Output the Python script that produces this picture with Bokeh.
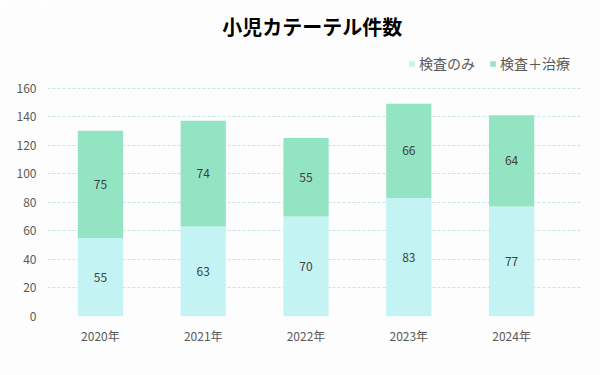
from bokeh.plotting import figure
from bokeh.models import Range1d, Legend, LegendItem, Label, ColumnDataSource, FixedTicker
from bokeh.core.properties import value
from bokeh.embed import file_html
from bokeh.resources import INLINE

years = ["2020年", "2021年", "2022年", "2023年", "2024年"]
exam_only = [55, 63, 70, 83, 77]
exam_treat = [75, 74, 55, 66, 64]
y_ticks = [0, 20, 40, 60, 80, 100, 120, 140, 160]

FONT = "Noto Sans CJK JP"
C_BOTTOM = "#C4F3F3"
C_TOP = "#93E4C2"

xs = list(range(len(years)))
tops = [a + b for a, b in zip(exam_only, exam_treat)]
src = ColumnDataSource(dict(
    x=xs, a=exam_only, b=exam_treat, top=tops,
    mid_a=[a / 2 for a in exam_only],
    mid_b=[a + b / 2 for a, b in zip(exam_only, exam_treat)],
    la=[str(v) for v in exam_only], lb=[str(v) for v in exam_treat],
    zero=[0] * len(xs),
))

# frame spans whole height; y range extended so 0..160 maps to the reference plot area
p = figure(width=600, height=375, output_backend="svg", toolbar_location=None,
           x_range=Range1d(-0.515, 4.68), y_range=Range1d(0, 221.3),
           min_border_left=47, min_border_right=19, min_border_top=0, min_border_bottom=59)
p.background_fill_color = "#FDFDFD"
p.border_fill_color = "#FDFDFD"
p.outline_line_color = None

w = 0.44
r1 = p.vbar(x="x", bottom="zero", top="a", width=w, source=src, fill_color=C_BOTTOM,
            line_color=None, hatch_pattern="checker", hatch_color="#ADEDED", hatch_scale=2, hatch_alpha=0.7)
r2 = p.vbar(x="x", bottom="a", top="top", width=w, source=src, fill_color=C_TOP,
            line_color=None, hatch_pattern="checker", hatch_color="#7BD9AE", hatch_scale=2, hatch_alpha=0.7)

p.text(x="x", y="mid_a", text="la", source=src, text_align="center", text_baseline="middle",
       text_font=value(FONT), text_font_size="12px", text_color="#404040")
p.text(x="x", y="mid_b", text="lb", source=src, text_align="center", text_baseline="middle",
       text_font=value(FONT), text_font_size="12px", text_color="#404040")

# axes
p.xaxis.ticker = FixedTicker(ticks=xs)
p.xaxis.major_label_overrides = {i: y for i, y in enumerate(years)}
p.yaxis.ticker = FixedTicker(ticks=y_ticks)
for ax in (p.xaxis[0], p.yaxis[0]):
    ax.axis_line_color = None
    ax.major_tick_line_color = None
    ax.minor_tick_line_color = None
    ax.major_tick_out = 0
    ax.major_tick_in = 0
    ax.major_label_text_font = FONT
    ax.major_label_text_font_size = "12px"
    ax.major_label_text_color = "#595959"
p.yaxis.major_label_standoff = 11
p.xaxis.major_label_standoff = 10

p.xgrid.grid_line_color = None
p.ygrid.ticker = FixedTicker(ticks=y_ticks)
p.ygrid.grid_line_color = "#C8E4EA"
p.ygrid.grid_line_dash = "3 2"

# title (data coords within the extended frame)
title = Label(x=2.06, y=203, text="小児カテーテル件数",
              text_align="center", text_baseline="middle", text_font=FONT,
              text_font_size="20px", text_font_style="bold", text_color="#000000")
p.add_layout(title)

legend = Legend(items=[LegendItem(label="検査のみ", renderers=[r1]),
                       LegendItem(label="検査＋治療", renderers=[r2])],
                orientation="horizontal", location=(361, 243),
                label_text_font=FONT, label_text_font_size="14px", label_text_color="#595959",
                glyph_width=7, glyph_height=7, label_standoff=4, spacing=14,
                padding=0, margin=0, border_line_color=None, background_fill_alpha=0)
p.add_layout(legend, "center")

open("out.html", "w").write(file_html(p, INLINE))
